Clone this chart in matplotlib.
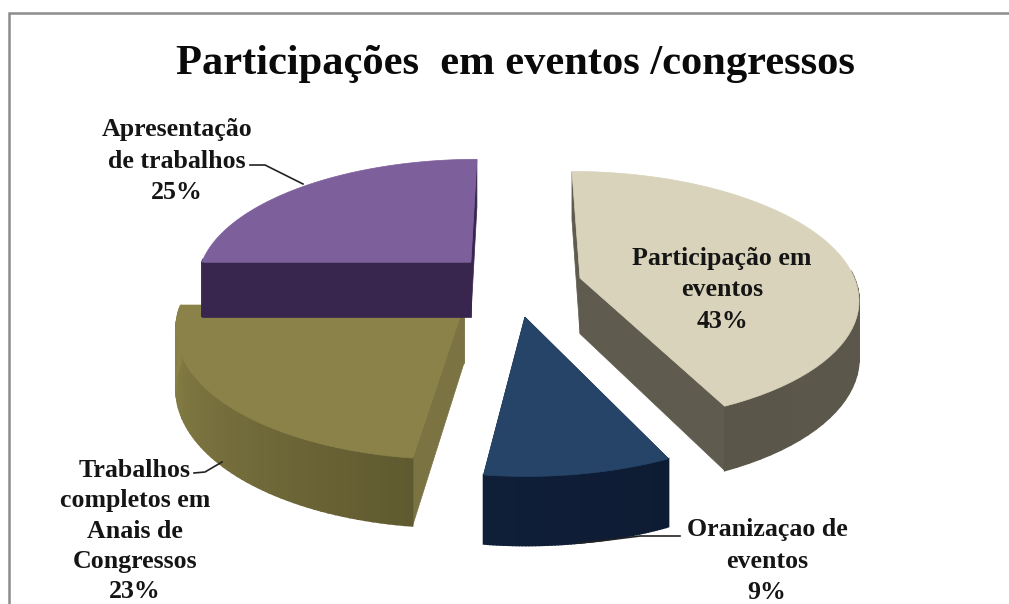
import numpy as np
import matplotlib
matplotlib.use("Agg")
import matplotlib.pyplot as plt
from matplotlib.colors import to_rgb
from matplotlib.patches import Polygon

# Chart data
title = "Participações  em eventos /congressos"
categories = ["Participação em\neventos", "Oranizaçao de\neventos",
              "Trabalhos\ncompletos em\nAnais de\nCongressos", "Apresentação\nde trabalhos"]
shares = [43, 9, 23, 25]

# Slice styling, same order as the categories
top_colors = ["#d9d3bb", "#264468", "#8b8249", "#7d5f9c"]
radial_colors = ["#5f5b4e", "#0f1f38", "#7b7342", "#38264f"]
rim_colors = [("#5f5b4e", "#5a564a"), ("#0e1c33", "#0f1f38"),
              ("#605a30", "#8b8248"), ("#38264f", "#38264f")]
offsets = [(0.226, 0.04), (0.024, -0.264), (-0.19, -0.173), (-0.175, 0.173)]

# Perspective projection of the pie plane onto the canvas
CX, CY, RX, RY, PERSP, DEPTH = 518, 283, 276, 124, 0.15, 56


def project(u, v, depth=0.0):
    u, v = np.asarray(u, float), np.asarray(v, float)
    w = 1 + PERSP * v
    return np.column_stack([CX + RX * u / w, CY - RY * v / w + depth * DEPTH / w])


fig = plt.figure(figsize=(10.09, 6.04), dpi=100, facecolor="white")
ax = fig.add_axes([0, 0, 1, 1])
ax.set_xlim(0, 1009)
ax.set_ylim(604, 0)
ax.axis("off")

# Chart frame: top and left edges stay on the canvas
ax.plot([9, 9, 1009], [604, 12.5, 12.5], color="#8c8c8c", lw=1.8, solid_joinstyle="miter")

edges = np.cumsum([0] + shares) / sum(shares) * 360


def draw_slice(i):
    a, b = edges[i], edges[i + 1]
    du, dv = offsets[i]
    theta = np.radians(np.linspace(a, b, 60))
    ru, rv = np.sin(theta) + du, np.cos(theta) + dv
    top = project(ru, rv)
    bottom = project(ru, rv, 1)
    apex_top = project([du], [dv])
    apex_bot = project([du], [dv], 1)

    # Straight cut faces from the rim to the slice apex
    for j in (0, -1):
        face = np.vstack([top[[j]], apex_top, apex_bot, bottom[[j]]])
        ax.add_patch(Polygon(face, fc=radial_colors[i], ec=radial_colors[i], lw=0.5, zorder=2 + i))

    # Outer wall, shaded along the arc
    c0, c1 = map(np.array, map(to_rgb, rim_colors[i]))
    for k in range(len(theta) - 1):
        if np.cos(theta[k]) > 0.02 and np.cos(theta[k + 1]) > 0.02:
            continue
        t = k / (len(theta) - 2)
        quad = np.vstack([top[k], top[k + 1], bottom[k + 1], bottom[k]])
        col = c0 + (c1 - c0) * t
        ax.add_patch(Polygon(quad, fc=col, ec=col, lw=1.2, zorder=2 + i))

    ax.add_patch(Polygon(np.vstack([apex_top, top]), fc=top_colors[i], ec=top_colors[i],
                         lw=0.5, zorder=2 + i))


# Back slices first so the front ones overlap them
for i in (3, 2, 1, 0):
    draw_slice(i)

serif = "Liberation Serif"
ax.text(515, 64, title, family=serif, weight="bold", fontsize=30.6, color="#0a0a0a",
        ha="center", va="center", zorder=10)

label_style = dict(family=serif, weight="bold", fontsize=18.6, color="#151515", ha="center",
                   va="center", zorder=10)
label_pos = [(722, 290), (767, 561), (135, 531), (177, 161)]
label_spacing = [1.5, 1.45, 1.39, 1.45]
for name, share, (x, y), gap in zip(categories, shares, label_pos, label_spacing):
    ax.text(x, y, f"{name}\n{share}%", linespacing=gap, **label_style)

# Leader lines
leaders = [
    ([250, 265, 303], [165, 165, 184]),
    ([194, 205, 222], [473, 472, 462]),
    ([680, 640, 600, 578], [536, 536, 541, 543]),
]
for xs, ys in leaders:
    ax.plot(xs, ys, color="#222222", lw=1.2, zorder=9)

fig.savefig("out.png", dpi=100)
